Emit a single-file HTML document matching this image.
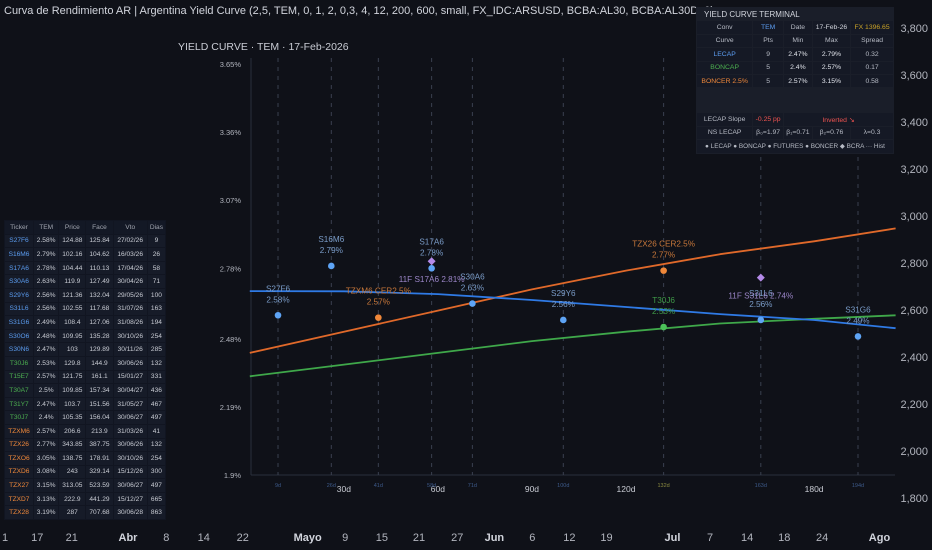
<!DOCTYPE html>
<html><head><meta charset="utf-8"><style>
body{margin:0;width:932px;height:550px;background:#0f1118;overflow:hidden;font-family:"Liberation Sans",sans-serif;position:relative}
.t{position:absolute;white-space:nowrap}
table{border-collapse:separate;border-spacing:1px;position:absolute}
td{text-align:center;padding:0;white-space:nowrap}
#lt{left:4px;top:220px;width:162px;font-size:6.6px;color:#c9ccd4;background:#111521}
#lt td{height:12.6px;background:#161b28}
#lt tr:first-child td{background:#131825;color:#a0a4ae}
#rt{left:696px;top:7px;width:198px;background:#1a1e29;font-size:6.8px;color:#b6bac4;height:146px}
#rt td{background:#151925;height:12.4px}
</style></head><body>
<div class="t" style="left:4px;top:5px;font-size:11px;color:#d1d4dc">Curva de Rendimiento AR | Argentina Yield Curve (2,5, TEM, 0, 1, 2, 0,3, 4, 12, 200, 600, small, FX_IDC:ARSUSD, BCBA:AL30, BCBA:AL30D, 0)</div>
<div class="t" style="left:178px;top:41px;font-size:10.5px;color:#c9ccd4">YIELD CURVE · TEM · 17-Feb-2026</div>
<svg id="chart" width="932" height="550" style="position:absolute;left:0;top:0"></svg>

<table id="lt">
<tr><td>Ticker</td><td>TEM</td><td>Price</td><td>Face</td><td>Vto</td><td>Dias</td></tr>
<tr><td style="color:#5b9cf0">S27F6</td><td>2.58%</td><td>124.88</td><td>125.84</td><td>27/02/26</td><td>9</td></tr>
<tr><td style="color:#5b9cf0">S16M6</td><td>2.79%</td><td>102.16</td><td>104.62</td><td>16/03/26</td><td>26</td></tr>
<tr><td style="color:#5b9cf0">S17A6</td><td>2.78%</td><td>104.44</td><td>110.13</td><td>17/04/26</td><td>58</td></tr>
<tr><td style="color:#5b9cf0">S30A6</td><td>2.63%</td><td>119.9</td><td>127.49</td><td>30/04/26</td><td>71</td></tr>
<tr><td style="color:#5b9cf0">S29Y6</td><td>2.56%</td><td>121.36</td><td>132.04</td><td>29/05/26</td><td>100</td></tr>
<tr><td style="color:#5b9cf0">S31L6</td><td>2.56%</td><td>102.55</td><td>117.68</td><td>31/07/26</td><td>163</td></tr>
<tr><td style="color:#5b9cf0">S31G6</td><td>2.49%</td><td>108.4</td><td>127.06</td><td>31/08/26</td><td>194</td></tr>
<tr><td style="color:#5b9cf0">S30O6</td><td>2.48%</td><td>109.95</td><td>135.28</td><td>30/10/26</td><td>254</td></tr>
<tr><td style="color:#5b9cf0">S30N6</td><td>2.47%</td><td>103</td><td>129.89</td><td>30/11/26</td><td>285</td></tr>
<tr><td style="color:#4caf50">T30J6</td><td>2.53%</td><td>129.8</td><td>144.9</td><td>30/06/26</td><td>132</td></tr>
<tr><td style="color:#4caf50">T15E7</td><td>2.57%</td><td>121.75</td><td>161.1</td><td>15/01/27</td><td>331</td></tr>
<tr><td style="color:#4caf50">T30A7</td><td>2.5%</td><td>109.85</td><td>157.34</td><td>30/04/27</td><td>436</td></tr>
<tr><td style="color:#4caf50">T31Y7</td><td>2.47%</td><td>103.7</td><td>151.56</td><td>31/05/27</td><td>467</td></tr>
<tr><td style="color:#4caf50">T30J7</td><td>2.4%</td><td>105.35</td><td>156.04</td><td>30/06/27</td><td>497</td></tr>
<tr><td style="color:#f0883a">TZXM6</td><td>2.57%</td><td>206.6</td><td>213.9</td><td>31/03/26</td><td>41</td></tr>
<tr><td style="color:#f0883a">TZX26</td><td>2.77%</td><td>343.85</td><td>387.75</td><td>30/06/26</td><td>132</td></tr>
<tr><td style="color:#f0883a">TZXO6</td><td>3.05%</td><td>138.75</td><td>178.91</td><td>30/10/26</td><td>254</td></tr>
<tr><td style="color:#f0883a">TZXD6</td><td>3.08%</td><td>243</td><td>329.14</td><td>15/12/26</td><td>300</td></tr>
<tr><td style="color:#f0883a">TZX27</td><td>3.15%</td><td>313.05</td><td>523.59</td><td>30/06/27</td><td>497</td></tr>
<tr><td style="color:#f0883a">TZXD7</td><td>3.13%</td><td>222.9</td><td>441.29</td><td>15/12/27</td><td>665</td></tr>
<tr><td style="color:#f0883a">TZX28</td><td>3.19%</td><td>287</td><td>707.68</td><td>30/06/28</td><td>863</td></tr>
</table>

<table id="rt">
<tr><td colspan="5" style="text-align:left;padding-left:7px;font-size:8px;color:#d1d4dc;background:#1a1e29">YIELD CURVE TERMINAL</td></tr>
<tr><td>Conv</td><td style="color:#5b9cf0">TEM</td><td>Date</td><td style="color:#d1d4dc">17-Feb-26</td><td style="color:#c9a227">FX 1396.65</td></tr>
<tr><td>Curve</td><td>Pts</td><td>Min</td><td>Max</td><td>Spread</td></tr>
<tr><td style="color:#5b9cf0">LECAP</td><td>9</td><td style="color:#e0e3ea">2.47%</td><td style="color:#e0e3ea">2.79%</td><td>0.32</td></tr>
<tr><td style="color:#4caf50">BONCAP</td><td>5</td><td style="color:#e0e3ea">2.4%</td><td style="color:#e0e3ea">2.57%</td><td>0.17</td></tr>
<tr><td style="color:#f0883a">BONCER 2.5%</td><td>5</td><td style="color:#e0e3ea">2.57%</td><td style="color:#e0e3ea">3.15%</td><td>0.58</td></tr>
<tr><td colspan="5" style="height:24px;background:#1a1e29"></td></tr>
<tr><td>LECAP Slope</td><td style="color:#ef5350">-0.25 pp</td><td colspan="3" style="color:#ef5350">Inverted ↘</td></tr>
<tr><td>NS LECAP</td><td>β₀=1.97</td><td>β₁=0.71</td><td>β₂=0.76</td><td>λ=0.3</td></tr>
<tr><td colspan="5" style="font-size:6.4px">● LECAP ● BONCAP ● FUTURES ● BONCER ◆ BCRA ··· Hist</td></tr>
</table>

<script>
// ---- data ----
const lecapTickers=["S27F6","S16M6","S17A6","S30A6","S29Y6","S31L6","S31G6"];
const lecapDays=[9,26,58,71,100,163,194];
const lecapYields=[2.58,2.79,2.78,2.63,2.56,2.56,2.49];
const boncapTickers=["T30J6"];
const boncapDays=[132];
const boncapYields=[2.53];
const boncerTickers=["TZXM6 CER2.5%","TZX26 CER2.5%"];
const boncerDays=[41,132];
const boncerYields=[2.57,2.77];
const bcraLabels=["11F S17A6 2.81%","11F S31L6 2.74%"];
const bcraDays=[58,163];
const bcraYields=[2.81,2.74];
const curveDays=[0,30,60,90,120,150,180,206];
const lecapCurve=[2.683,2.682,2.67,2.645,2.615,2.585,2.56,2.525];
const boncerCurve=[2.42,2.51,2.6,2.69,2.77,2.84,2.895,2.95];
const boncapCurve=[2.32,2.37,2.42,2.47,2.51,2.545,2.565,2.58];
const yTicks=[3.65,3.36,3.07,2.78,2.48,2.19,1.9];
const xTicks=[30,60,90,120,180];
const priceTicks=[3800,3600,3400,3200,3000,2800,2600,2400,2200,2000,1800];
const dateLabels=["1","17","21","Abr","8","14","22","Mayo","9","15","21","27","Jun","6","12","19","Jul","7","14","18","24","Ago"];
const dateBars=[0,0.86,1.78,3.28,4.3,5.3,6.34,8.07,9.07,10.05,11.04,12.06,13.05,14.06,15.05,16.04,17.8,18.8,19.79,20.78,21.79,23.32];

// ---- axes ----
const X=d=>249.8+d*3.135;
const Y=v=>475-(v-1.9)*234.9;
const P=p=>28+(3800-p)*0.235;
const T=b=>5+b*37.5;
const svg=document.getElementById('chart');
const NS='http://www.w3.org/2000/svg';
function mk(tag,attrs){const e=document.createElementNS(NS,tag);for(const k in attrs)e.setAttribute(k,attrs[k]);svg.appendChild(e);return e;}
function txt(x,y,s,fill,size,anchor,w){const e=mk('text',{x:x,y:y,fill:fill,'font-size':size,'text-anchor':anchor||'middle','font-family':'Liberation Sans, sans-serif'});if(w)e.setAttribute('font-weight',w);e.textContent=s;return e;}

let a=mk('line',{x1:251,y1:58,x2:251,y2:475,stroke:'#2a2f3c','stroke-width':1});

a=mk('line',{x1:251,y1:475,x2:895,y2:475,stroke:'#2a2f3c','stroke-width':1});


yTicks.forEach(v=>{const e=txt(241,Y(v)+3,v+'%','#b2b5be',7.5,'end');
});
xTicks.forEach(d=>{const e=txt(X(d),492,d+'d','#c9ccd4',8.5);
});

const allDays=[...new Set([...lecapDays,...boncapDays,...boncerDays])].sort((p,q)=>p-q);
allDays.forEach(d=>{const l=mk('line',{x1:X(d),y1:58,x2:X(d),y2:475,stroke:'#3a4050','stroke-width':1,'stroke-dasharray':'4,5'});

const col=boncapDays.includes(d)?'#8a8a40':'#3d5a8a';
const t=txt(X(d),487,d+'d',col,5.5);
});

function curve(vals,color,name){const pts=curveDays.map((d,i)=>X(d).toFixed(1)+','+Y(vals[i]).toFixed(1)).join(' ');
const e=mk('polyline',{points:pts,fill:'none',stroke:color,'stroke-width':1.8,'stroke-linejoin':'round'});
}
curve(boncapCurve,'#3fa84a','boncap-curve');
curve(boncerCurve,'#e0692a','boncer-curve');
curve(lecapCurve,'#2f7ae5','lecap-curve');

function points(tk,days,ys,color,lcolor,name){days.forEach((d,i)=>{
const c=mk('circle',{cx:X(d),cy:Y(ys[i]),r:3.3,fill:color});

const t1=txt(X(d),Y(ys[i])-24,tk[i],lcolor,8.2);

const t2=txt(X(d),Y(ys[i])-13,ys[i]+'%',lcolor,8.2);
});}
points(lecapTickers,lecapDays,lecapYields,'#5ea4f5','#7a9cc8','lecap-point');
points(boncapTickers,boncapDays,boncapYields,'#4cc25a','#3f9a48','boncap-point');
points(boncerTickers,boncerDays,boncerYields,'#f0883a','#c9783a','boncer-point');
bcraDays.forEach((d,i)=>{const x=X(d),y=Y(bcraYields[i]);
const p=mk('polygon',{points:`${x},${y-4} ${x+4},${y} ${x},${y+4} ${x-4},${y}`,fill:'#b48ae8'});

const t=txt(x,y+21,bcraLabels[i],'#9b86c8',8.2);
});

priceTicks.forEach(p=>{const e=txt(928,P(p)+4,p.toLocaleString('en-US'),'#b2b5be',11,'end');
});
dateLabels.forEach((s,i)=>{const bold=isNaN(+s);const e=txt(T(dateBars[i]),541,s,bold?'#d1d4dc':'#b2b5be',11,'middle',bold?'bold':null);
});
</script>
</body></html>
